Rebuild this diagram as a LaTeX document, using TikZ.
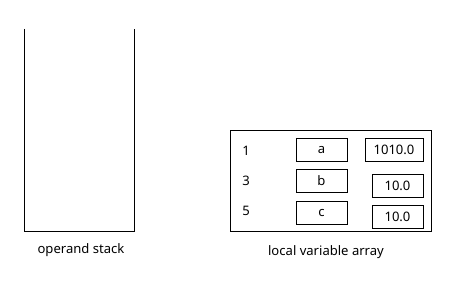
\documentclass[tikz,border=0pt]{standalone}
\usepackage{fontspec}
\setmainfont{Noto Sans}
\usetikzlibrary{positioning}

\begin{document}
\begin{tikzpicture}[
  x=0.75pt, y=-0.75pt,
  font=\fontsize{9.8}{12}\selectfont,
  cell/.style={draw, line width=0.6pt, minimum width=51*0.75pt, minimum height=23*0.75pt, inner sep=0pt},
  val/.style={cell, minimum width=51*0.75pt},
  idx/.style={inner sep=0pt},
  lbl/.style={inner sep=0pt},
]
\useasboundingbox (0,0) rectangle (465,284);
% operand stack
\coordinate (stl) at (24,29);
\coordinate (str) at (134,29);
\draw[line width=0.7pt] (stl) -- (stl |- 0,231) -- (str |- 0,231) -- (str);
\node[lbl] (stack) at (81,250) {operand stack};
% local variable array
\node[draw, line width=0.7pt, minimum width=201*0.75pt, minimum height=101*0.75pt, inner sep=0pt] (lva) at (330.5,180.5) {};
\node[idx] (i1) at (246,151) {1};
\node[idx] (i3) at (246,181) {3};
\node[idx] (i5) at (246,211) {5};
\node[cell] (a) at (321.5,150) {a};
\node[cell] (b) at (321.5,181) {b};
\node[cell] (c) at (321.5,213) {c};
\node[val, minimum width=58*0.75pt] (va) at (394,150) {1010.0};
\node[val] (vb) at (397.5,186) {10.0};
\node[val] (vc) at (397.5,217) {10.0};
\node[lbl] (array) at (326,252) {local variable array};
\end{tikzpicture}
\end{document}
